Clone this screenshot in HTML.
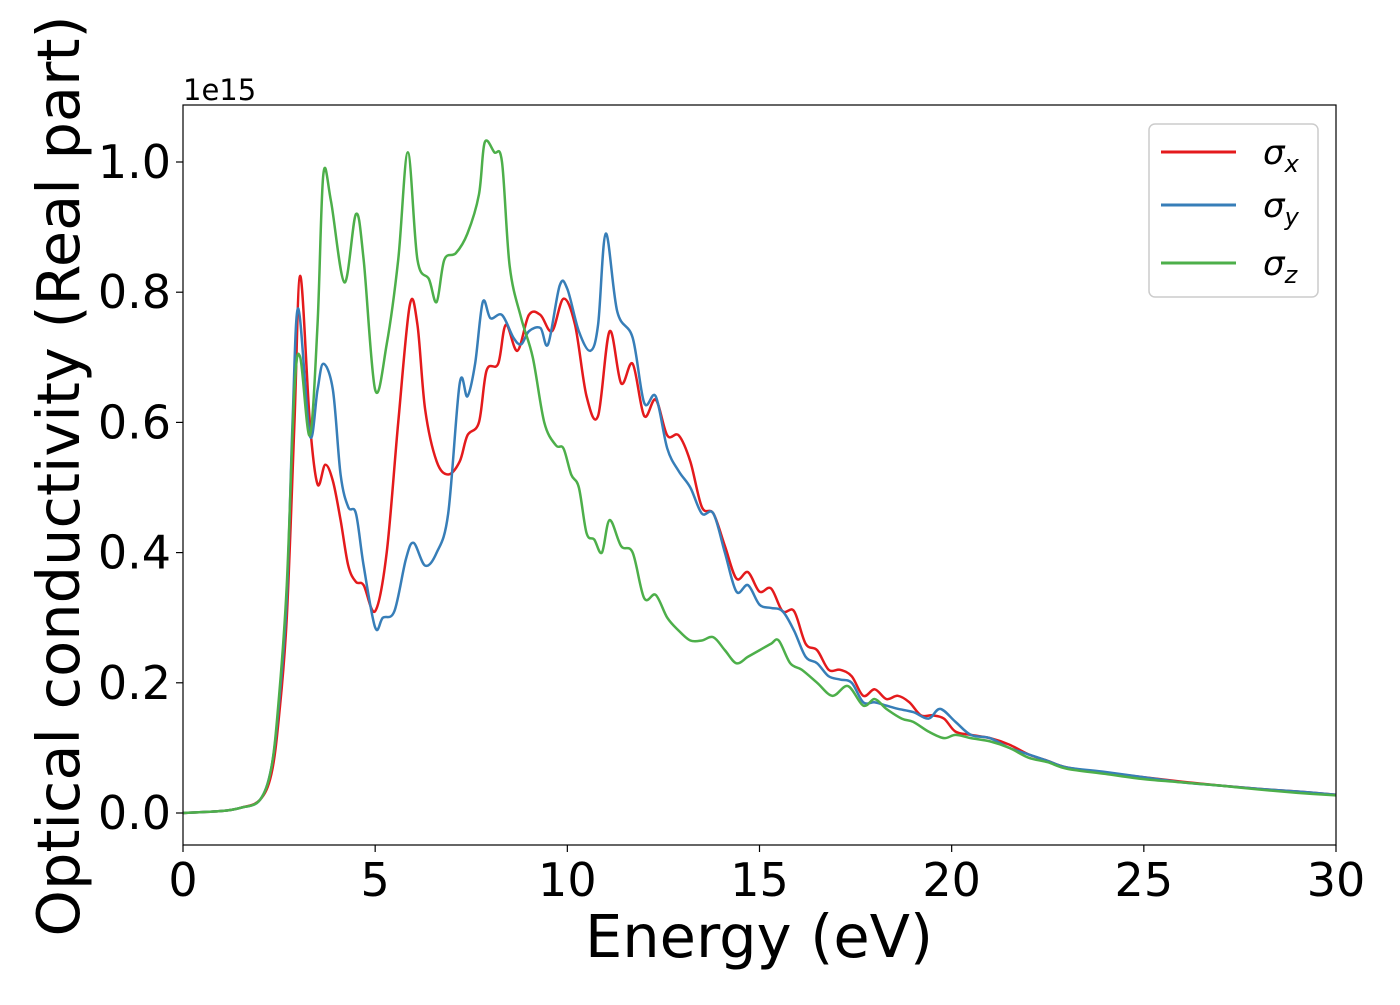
<!DOCTYPE html>
<html><head><meta charset="utf-8"><style>
body{margin:0;background:#fff;width:1400px;height:1000px;overflow:hidden}
svg{font-family:"DejaVu Sans","Liberation Sans",sans-serif}
</style></head><body>
<svg id="chart" width="1400" height="1000">
<rect x="0" y="0" width="1400" height="1000" fill="#fff"/>
<g id="plot"></g>
<g id="axes"></g>
<text x="183" y="100" font-size="29">1e15</text>
<text x="759" y="957" font-size="59" text-anchor="middle">Energy (eV)</text>
<text transform="translate(79,476) rotate(-90)" font-size="59" text-anchor="middle">Optical conductivity (Real part)</text>
<g>
<rect x="1149" y="124" width="169" height="173" rx="6" fill="#fff" stroke="#ccc" stroke-width="1.5"/>
<g><line x1="1161" y1="152" x2="1236" y2="152" stroke="#e41a1c" stroke-width="3"/><text x="1263" y="164" font-size="34" font-style="italic">σ<tspan font-size="24" dy="8">x</tspan></text></g>
<g><line x1="1161" y1="205" x2="1236" y2="205" stroke="#377eb8" stroke-width="3"/><text x="1263" y="217" font-size="34" font-style="italic">σ<tspan font-size="24" dy="8">y</tspan></text></g>
<g><line x1="1161" y1="263" x2="1236" y2="263" stroke="#4daf4a" stroke-width="3"/><text x="1263" y="275" font-size="34" font-style="italic">σ<tspan font-size="24" dy="8">z</tspan></text></g>
</g>
</svg>
<script>
const xTicks=[0,5,10,15,20,25,30];
const yTicks=[0,0.2,0.4,0.6,0.8,1.0];
const yTickLabels=["0.0","0.2","0.4","0.6","0.8","1.0"];
const eX=[0,1,1.5,2,2.3,2.5,2.7,2.9,3.05,3.3,3.5,3.7,3.9,4.1,4.3,4.5,4.7,5.0,5.3,5.6,5.9,6.1,6.3,6.6,6.9,7.2,7.4,7.7,7.9,8.2,8.4,8.7,9.0,9.3,9.6,9.9,10.2,10.5,10.8,11.1,11.4,11.7,12.0,12.3,12.6,12.9,13.2,13.5,13.8,14.1,14.4,14.7,15.0,15.3,15.6,15.9,16.2,16.5,16.8,17.1,17.4,17.7,18.0,18.3,18.6,18.9,19.2,19.5,19.8,20.1,20.5,21,21.5,22,22.5,23,24,25,26,27,28,29,30];
const sigmaX=[0,0.003,0.008,0.02,0.06,0.15,0.3,0.6,0.825,0.6,0.505,0.535,0.51,0.45,0.38,0.355,0.35,0.31,0.4,0.6,0.78,0.75,0.62,0.54,0.52,0.54,0.58,0.6,0.68,0.69,0.75,0.71,0.765,0.765,0.74,0.79,0.75,0.64,0.61,0.74,0.66,0.69,0.61,0.635,0.58,0.58,0.54,0.47,0.46,0.41,0.36,0.37,0.34,0.345,0.31,0.31,0.26,0.25,0.22,0.22,0.21,0.18,0.19,0.175,0.18,0.17,0.15,0.15,0.145,0.125,0.12,0.115,0.105,0.09,0.08,0.07,0.062,0.055,0.048,0.042,0.037,0.033,0.028];
const eY=[0,1,1.5,2,2.3,2.5,2.7,2.85,3.0,3.3,3.5,3.65,3.9,4.1,4.3,4.5,4.7,5.0,5.2,5.5,5.8,6.0,6.3,6.6,6.9,7.2,7.4,7.6,7.8,8.0,8.3,8.6,8.8,9.0,9.3,9.5,9.8,10.0,10.3,10.6,10.8,11.0,11.3,11.7,12.0,12.3,12.6,12.9,13.2,13.5,13.8,14.1,14.4,14.7,15.0,15.3,15.6,15.9,16.2,16.5,16.8,17.1,17.4,17.7,18.0,18.3,18.6,19.0,19.4,19.7,20.1,20.5,21,21.5,22,22.5,23,24,25,26,27,28,29,30];
const sigmaY=[0,0.003,0.008,0.02,0.07,0.17,0.33,0.6,0.775,0.58,0.65,0.69,0.65,0.52,0.47,0.46,0.38,0.285,0.3,0.31,0.39,0.415,0.38,0.4,0.46,0.66,0.64,0.69,0.785,0.76,0.765,0.73,0.72,0.74,0.745,0.72,0.81,0.805,0.74,0.71,0.75,0.89,0.77,0.73,0.63,0.64,0.56,0.525,0.5,0.46,0.46,0.4,0.34,0.35,0.32,0.315,0.31,0.28,0.24,0.23,0.21,0.205,0.2,0.17,0.17,0.165,0.16,0.155,0.145,0.16,0.14,0.12,0.115,0.1,0.09,0.08,0.07,0.063,0.055,0.047,0.042,0.037,0.033,0.028];
const eZ=[0,1,1.5,2,2.3,2.5,2.7,2.9,3.05,3.3,3.5,3.65,3.85,4.2,4.5,4.7,5.0,5.3,5.6,5.85,6.1,6.4,6.6,6.8,7.1,7.4,7.7,7.85,8.1,8.3,8.5,8.8,9.1,9.4,9.7,9.9,10.1,10.3,10.5,10.7,10.9,11.1,11.4,11.7,12.0,12.3,12.6,12.9,13.2,13.5,13.8,14.1,14.4,14.7,15.0,15.3,15.5,15.8,16.1,16.5,16.9,17.3,17.7,18.0,18.3,18.7,19.0,19.4,19.8,20.1,20.5,21,21.5,22,22.5,23,24,25,26,27,28,29,30];
const sigmaZ=[0,0.003,0.008,0.02,0.07,0.18,0.35,0.65,0.7,0.58,0.75,0.98,0.94,0.815,0.92,0.85,0.65,0.72,0.85,1.015,0.85,0.82,0.785,0.85,0.86,0.89,0.95,1.03,1.015,1.0,0.84,0.76,0.7,0.6,0.565,0.56,0.52,0.5,0.43,0.42,0.4,0.45,0.41,0.4,0.33,0.335,0.3,0.28,0.265,0.265,0.27,0.25,0.23,0.24,0.25,0.26,0.265,0.23,0.22,0.2,0.18,0.195,0.165,0.175,0.16,0.145,0.14,0.125,0.115,0.12,0.115,0.11,0.1,0.085,0.078,0.068,0.06,0.052,0.047,0.042,0.036,0.031,0.027];
const L=183,R=1336,T=105,B=845;
const xs=v=>L+(v-0)/30*(R-L);
const ys=v=>813-v*651;
const NS='http://www.w3.org/2000/svg';
const plot=document.getElementById('plot'),axes=document.getElementById('axes');
function pathFor(xa,ya){
  const p=xa.map((x,i)=>[xs(x),ys(ya[i])]);
  let d='M'+p[0][0]+','+p[0][1];
  for(let i=0;i<p.length-1;i++){
    const p0=p[Math.max(0,i-1)],p1=p[i],p2=p[i+1],p3=p[Math.min(p.length-1,i+2)];
    const c1=[p1[0]+(p2[0]-p0[0])/6,p1[1]+(p2[1]-p0[1])/6];
    const c2=[p2[0]-(p3[0]-p1[0])/6,p2[1]-(p3[1]-p1[1])/6];
    d+=` C${c1[0]},${c1[1]} ${c2[0]},${c2[1]} ${p2[0]},${p2[1]}`;
  }
  return d;
}
const series=[[eX,sigmaX,'#e41a1c','series-sigma-x'],[eY,sigmaY,'#377eb8','series-sigma-y'],[eZ,sigmaZ,'#4daf4a','series-sigma-z']];
const cp=document.createElementNS(NS,'clipPath');cp.id='clip';
const cr=document.createElementNS(NS,'rect');cr.setAttribute('x',L);cr.setAttribute('y',T);cr.setAttribute('width',R-L);cr.setAttribute('height',B-T);
cp.appendChild(cr);plot.appendChild(cp);
series.forEach(s=>{
  const el=document.createElementNS(NS,'path');
  el.setAttribute('d',pathFor(s[0],s[1]));
  el.setAttribute('fill','none');el.setAttribute('stroke',s[2]);el.setAttribute('stroke-width','2.5');
  el.setAttribute('clip-path','url(#clip)');
  
  
  plot.appendChild(el);
});
const fr=document.createElementNS(NS,'rect');
fr.setAttribute('x',L);fr.setAttribute('y',T);fr.setAttribute('width',R-L);fr.setAttribute('height',B-T);
fr.setAttribute('fill','none');fr.setAttribute('stroke','#000');fr.setAttribute('stroke-width','1.2');


axes.appendChild(fr);
xTicks.forEach(t=>{
  const x=xs(t);
  const ln=document.createElementNS(NS,'line');
  ln.setAttribute('x1',x);ln.setAttribute('x2',x);ln.setAttribute('y1',B);ln.setAttribute('y2',B+7);ln.setAttribute('stroke','#000');ln.setAttribute('stroke-width','1.2');
  
  
  axes.appendChild(ln);
  const tx=document.createElementNS(NS,'text');
  tx.setAttribute('x',x);tx.setAttribute('y',B+51);tx.setAttribute('font-size','46');tx.setAttribute('text-anchor','middle');
  tx.textContent=t;
  
  
  axes.appendChild(tx);
});
yTicks.forEach((t,i)=>{
  const y=ys(t);
  const ln=document.createElementNS(NS,'line');
  ln.setAttribute('x1',L-7);ln.setAttribute('x2',L);ln.setAttribute('y1',y);ln.setAttribute('y2',y);ln.setAttribute('stroke','#000');ln.setAttribute('stroke-width','1.2');
  
  
  axes.appendChild(ln);
  const tx=document.createElementNS(NS,'text');
  tx.setAttribute('x',L-12);tx.setAttribute('y',y+16);tx.setAttribute('font-size','46');tx.setAttribute('text-anchor','end');
  tx.textContent=yTickLabels[i];
  
  
  axes.appendChild(tx);
});
</script>
</body></html>
